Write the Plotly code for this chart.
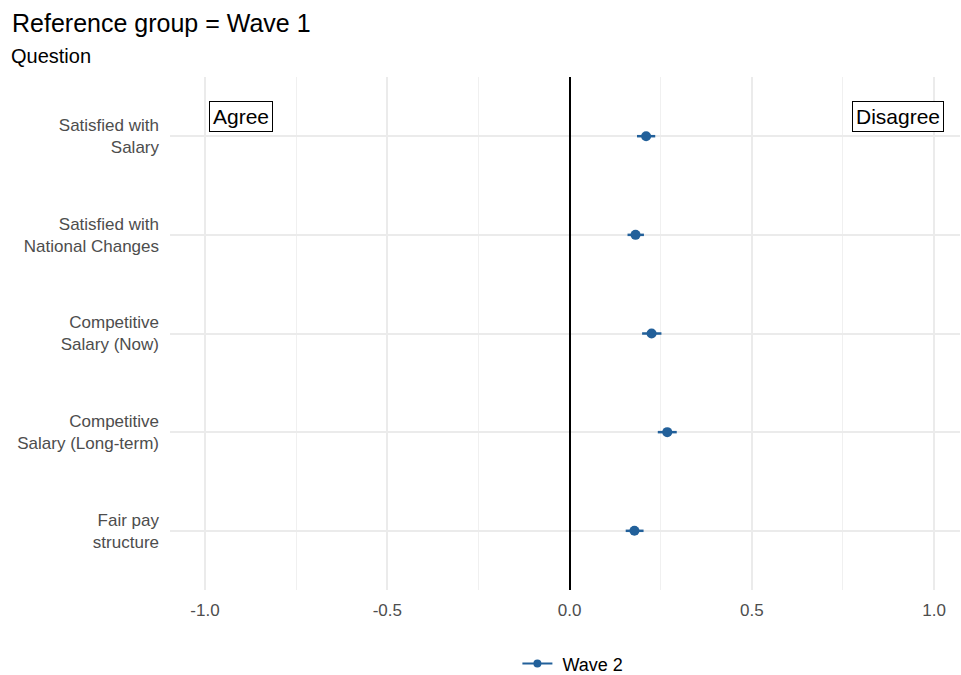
import plotly.graph_objects as go

questions = [
    "Satisfied with<br>Salary",
    "Satisfied with<br>National Changes",
    "Competitive<br>Salary (Now)",
    "Competitive<br>Salary (Long-term)",
    "Fair pay<br>structure",
]
positions = [1, 2, 3, 4, 5]
estimates = [0.210, 0.181, 0.225, 0.268, 0.178]
err_low = [0.025, 0.022, 0.026, 0.026, 0.024]
err_high = [0.025, 0.023, 0.027, 0.026, 0.025]
x_ticks = [-1.0, -0.5, 0.0, 0.5, 1.0]
x_tick_labels = ["-1.0", "-0.5", "0.0", "0.5", "1.0"]
series_name = "Wave 2"
color = "#22609a"
FONT = "Liberation Sans, Arial, sans-serif"

fig = go.Figure()
fig.add_trace(go.Scatter(
    x=estimates, y=positions, mode="markers",
    marker=dict(color=color, size=10),
    error_x=dict(type="data", symmetric=False, array=err_high, arrayminus=err_low,
                 color=color, thickness=2.5, width=0),
    showlegend=False, name=series_name,
))
fig.add_trace(go.Scatter(
    x=[None], y=[None], mode="lines+markers", name=" " + series_name,
    line=dict(color=color, width=2), marker=dict(color=color, size=8),
    showlegend=True,
))

fig.add_annotation(x=-0.9, y=0.8, text="Agree", showarrow=False,
                   font=dict(family=FONT, size=21, color="black"),
                   bgcolor="white", bordercolor="black", borderwidth=1, borderpad=3)
fig.add_annotation(x=0.9, y=0.8, text="Disagree", showarrow=False,
                   font=dict(family=FONT, size=21, color="black"),
                   bgcolor="white", bordercolor="black", borderwidth=1, borderpad=3)
fig.add_annotation(x=-0.204, xref="paper", y=1.041, yref="paper", text="Question",
                   showarrow=False, xanchor="left", yanchor="middle",
                   font=dict(family=FONT, size=20, color="black"))

fig.update_layout(
    width=961, height=675,
    margin=dict(l=170, r=1, t=77, b=85, autoexpand=False),
    paper_bgcolor="white", plot_bgcolor="white",
    font=dict(family=FONT),
    title=dict(text="Reference group = Wave 1", xref="container", x=0.0125, xanchor="left",
               yref="container", y=0.966, yanchor="middle",
               font=dict(family=FONT, size=25, color="black")),
    xaxis=dict(range=[-1.096, 1.071], tickvals=x_ticks, ticktext=x_tick_labels,
               showgrid=True, gridcolor="#ebebeb", gridwidth=1.5,
               minor=dict(dtick=0.25, tick0=0, showgrid=True, gridcolor="#f0f0f0", gridwidth=1),
               zeroline=True, zerolinecolor="black", zerolinewidth=2,
               showline=False, ticks="", ticklabelstandoff=8,
               tickfont=dict(family=FONT, size=17, color="#4d4d4d")),
    yaxis=dict(range=[5.6, 0.4], tickvals=positions, ticktext=questions,
               showgrid=True, gridcolor="#ebebeb", gridwidth=2,
               zeroline=False, showline=False, ticks="", ticklabelstandoff=10,
               tickfont=dict(family=FONT, size=17, color="#4d4d4d")),
    legend=dict(orientation="h", x=0.51, xanchor="center", y=-0.144, yanchor="middle",
                font=dict(family=FONT, size=18, color="black")),
)

fig.write_html("out.html")
